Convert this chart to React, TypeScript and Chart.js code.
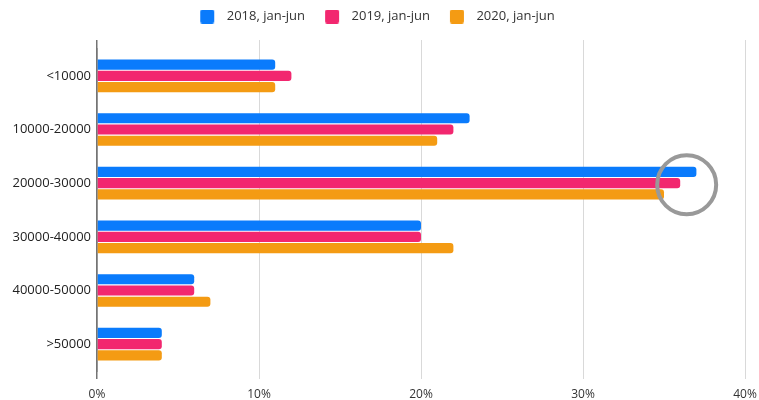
import React, { useEffect, useRef } from "react";
import { Chart, registerables } from "chart.js";

Chart.register(...registerables);

const categories = ["<10000", "10000-20000", "20000-30000", "30000-40000", "40000-50000", ">50000"];
const seriesLabels = ["2018, jan-jun", "2019, jan-jun", "2020, jan-jun"];
const s2018 = [11, 23, 37, 20, 6, 4];
const s2019 = [12, 22, 36, 20, 6, 4];
const s2020 = [11, 21, 35, 22, 7, 4];
const xTickValues = [0, 10, 20, 30, 40];
const colors = ["#0a7bfc", "#f2276f", "#f49b13"];

// highlighted point (value %, category index)
const circleValue = 36.4;
const circleCategory = 2.03;
const circleRadius = 29.5;

const FONT = "'Open Sans', 'DejaVu Sans', sans-serif";
const AXIS_COLOR = "#747474";

function legendSwatch(color: string): HTMLCanvasElement {
  const c = document.createElement("canvas");
  c.width = 30;
  c.height = 14;
  const g = c.getContext("2d")!;
  g.fillStyle = color;
  g.beginPath();
  (g as any).roundRect(10, 0, 14, 14, 2);
  g.fill();
  return c;
}

const circlePlugin = {
  id: "circleMark",
  afterDatasetsDraw(chart: any) {
    const { ctx, scales } = chart;
    const cx = scales.x.getPixelForValue(circleValue);
    const cy = scales.y.getPixelForValue(circleCategory);
    ctx.save();
    ctx.strokeStyle = "#999999";
    ctx.lineWidth = 4;
    ctx.beginPath();
    ctx.arc(cx, cy, circleRadius, 0, Math.PI * 2);
    ctx.stroke();
    ctx.restore();
  },
};

export default function App() {
  const ref = useRef<HTMLCanvasElement>(null);

  useEffect(() => {
    const swatches = colors.map(legendSwatch);
    const gridColor = (ctx: any) => (ctx.tick && ctx.tick.value === 0 ? AXIS_COLOR : "#d9d9d9");
    const gridWidth = (ctx: any) => (ctx.tick && ctx.tick.value === 0 ? 1.5 : 1);
    const chart = new Chart(ref.current!, {
      type: "bar",
      data: {
        labels: categories,
        datasets: [s2018, s2019, s2020].map((d, i) => ({
          label: seriesLabels[i],
          data: d,
          backgroundColor: colors[i],
          borderRadius: 3,
          categoryPercentage: 0.63,
          barPercentage: 0.9,
        })),
      },
      options: {
        indexAxis: "y",
        animation: false,
        responsive: true,
        maintainAspectRatio: false,
        layout: { padding: { left: 0, right: 14, top: 0, bottom: 0 } },
        plugins: {
          tooltip: { enabled: false },
          legend: {
            position: "top",
            labels: {
              usePointStyle: true,
              pointStyleWidth: 30,
              padding: 10,
              color: "#333",
              font: { family: FONT, size: 13 },
              generateLabels: (chart: any) => {
                const items = Chart.defaults.plugins.legend.labels.generateLabels(chart);
                return items.map((it: any, i: number) => ({ ...it, pointStyle: swatches[i], lineWidth: 0 }));
              },
            },
          },
        },
        scales: {
          x: {
            type: "linear",
            position: "bottom",
            min: 0,
            max: 40,
            afterBuildTicks: (s: any) => {
              s.ticks = xTickValues.map((v) => ({ value: v }));
            },
            afterFit: (s: any) => {
              s.height = 29;
              s.paddingLeft = 0;
              s.paddingRight = 12;
            },
            grid: { color: gridColor, lineWidth: gridWidth, tickLength: 8, drawTicks: true },
            border: { display: false },
            ticks: {
              padding: 8,
              color: "#333",
              font: { family: FONT, size: 12 },
              callback: (v: any) => v + "%",
            },
          },
          x2: {
            type: "linear",
            axis: "x",
            position: "top",
            min: 0,
            max: 40,
            afterBuildTicks: (s: any) => {
              s.ticks = xTickValues.map((v) => ({ value: v }));
            },
            afterFit: (s: any) => {
              s.height = 16;
              s.paddingLeft = 0;
              s.paddingRight = 0;
            },
            grid: { color: gridColor, lineWidth: gridWidth, tickLength: 9, drawOnChartArea: false },
            border: { display: false },
            ticks: { display: false },
          },
          y: {
            type: "category",
            afterFit: (s: any) => {
              s.width = 97;
            },
            grid: { display: false, drawTicks: false },
            border: { display: true, color: AXIS_COLOR, width: 1.5 },
            ticks: {
              padding: 6,
              color: "#222",
              font: { family: FONT, size: 13 },
            },
          },
        },
      },
      plugins: [circlePlugin],
    } as any);
    return () => chart.destroy();
  }, []);

  return (
    <div style={{ position: "absolute", left: 0, top: 0, width: 759, height: 400, background: "#fff" }}>
      <canvas ref={ref} />
    </div>
  );
}
